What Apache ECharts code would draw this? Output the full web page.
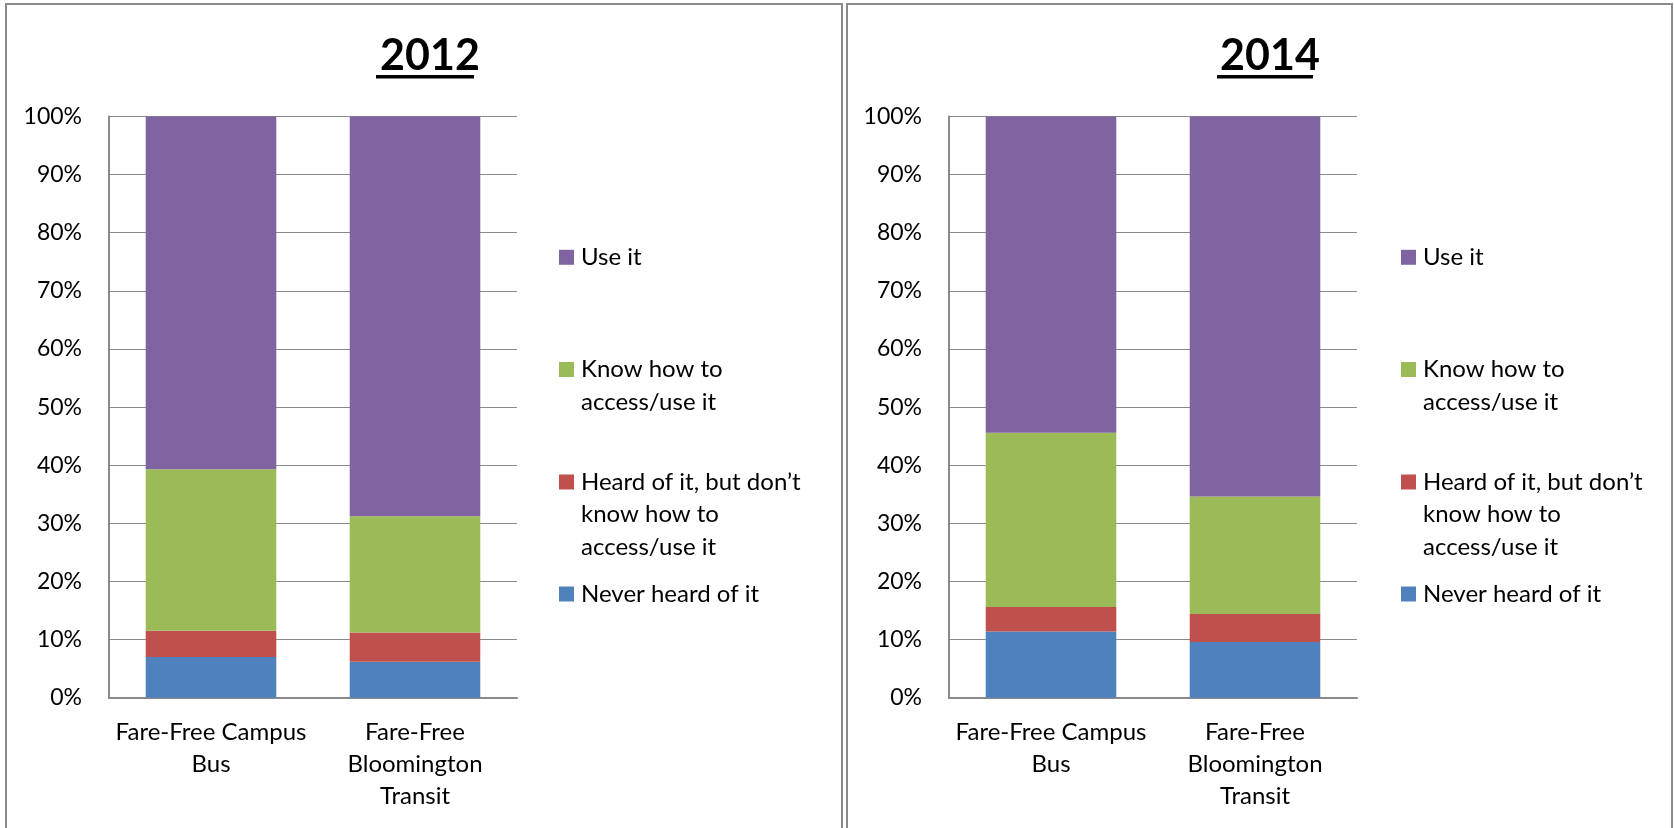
<!DOCTYPE html>
<html>
<head>
<meta charset="utf-8">
<script src="https://cdn.jsdelivr.net/npm/echarts@6/dist/echarts.min.js"></script>
<style>
  html, body { margin: 0; padding: 0; background: #fff; }
  #chart { width: 1674px; height: 828px; }
</style>
</head>
<body>
<div id="chart"></div>
<script>
// categories on the x axis
const categories = ["Fare-Free Campus\nBus", "Fare-Free\nBloomington\nTransit"]
// legend / series names (bottom of stack first)
const names = [
  "Never heard of it",
  "Heard of it, but don\u2019t\nknow how to\naccess/use it",
  "Know how to\naccess/use it",
  "Use it",
]
const colors = ["#4F81BD", "#C0504D", "#9BBB59", "#8064A2"]
const yTicks = [0, 10, 20, 30, 40, 50, 60, 70, 80, 90, 100]

// 2012 values, percent
const never2012 = [7.0, 6.2]
const heard2012 = [4.5, 5.0]
const know2012 = [27.8, 20.0]
const use2012 = [60.7, 68.8]

// 2014 values, percent
const never2014 = [11.4, 9.6]
const heard2014 = [4.2, 4.8]
const know2014 = [30.0, 20.2]
const use2014 = [54.4, 65.4]

const FONT = "Lato"
const LH = 32.4
const gridColor = "#8a8a8a"

const makeSeries = (idx, stack, values) =>
  values.map((data, i) => ({
    name: names[i],
    type: "bar",
    stack: stack,
    xAxisIndex: idx,
    yAxisIndex: idx,
    barWidth: "64%",
    itemStyle: { color: colors[i] },
    data: data,
  }))

// icon sits on the first line: pad with blank lines above so the block centre is line 1
const makeLegend = (name, lines, left, firstLineY) => ({
  data: [name],
  left: left,
  top: firstLineY - ((2 * lines - 1) * LH) / 2,
  orient: "vertical",
  padding: 0,
  icon: "rect",
  itemWidth: 15,
  itemHeight: 15,
  selectedMode: false,
  formatter: (n) => "\n".repeat(lines - 1) + n,
  textStyle: {
    fontFamily: FONT,
    fontSize: 24,
    color: "#000",
    lineHeight: LH,
    padding: [0, 0, 0, 2],
  },
})

const legendRows = [
  [names[3], 1, 257.3],
  [names[2], 2, 369.5],
  [names[1], 3, 482],
  [names[0], 1, 594],
]

const xAxisOf = (idx) => ({
  type: "category",
  gridIndex: idx,
  data: categories,
  axisTick: { show: false },
  axisLine: { lineStyle: { color: gridColor, width: 2 } },
  axisLabel: {
    color: "#000",
    fontFamily: FONT,
    fontSize: 24,
    lineHeight: 31.7,
    margin: 19,
    interval: 0,
  },
})

const yAxisOf = (idx) => ({
  type: "value",
  gridIndex: idx,
  min: yTicks[0],
  max: yTicks[yTicks.length - 1],
  interval: 10,
  axisLine: { show: true, lineStyle: { color: gridColor, width: 2 } },
  axisTick: { show: false },
  splitLine: { lineStyle: { color: gridColor, width: 1.2 } },
  axisLabel: {
    color: "#000",
    fontFamily: FONT,
    fontSize: 23,
    margin: 27,
    formatter: "{value}%",
  },
})

const underline = (x1, x2) => ({
  type: "rect",
  shape: { x: x1, y: 75, width: x2 - x1, height: 3.5 },
  style: { fill: "#000" },
})

const chart = echarts.init(document.getElementById("chart"))
const option = {
  animation: false,
  backgroundColor: "#fff",
  title: [
    {
      text: "2012",
      left: 425,
      top: 30,
      textAlign: "center",
      textStyle: { fontFamily: FONT, fontSize: 43, fontWeight: "bold", color: "#000" },
    },
    {
      text: "2014",
      left: 1265,
      top: 30,
      textAlign: "center",
      textStyle: { fontFamily: FONT, fontSize: 43, fontWeight: "bold", color: "#000" },
    },
  ],
  grid: [
    { left: 109, top: 116.5, width: 408, height: 581.2 },
    { left: 949, top: 116.5, width: 408, height: 581.2 },
  ],
  xAxis: [xAxisOf(0), xAxisOf(1)],
  yAxis: [yAxisOf(0), yAxisOf(1)],
  legend: [
    ...legendRows.map((r) => makeLegend(r[0], r[1], 559, r[2])),
    ...legendRows.map((r) => makeLegend(r[0], r[1], 1401, r[2])),
  ],
  series: [
    ...makeSeries(0, "y2012", [never2012, heard2012, know2012, use2012]),
    ...makeSeries(1, "y2014", [never2014, heard2014, know2014, use2014]),
  ],
  graphic: [
    {
      type: "rect",
      shape: { x: 6, y: 4, width: 836, height: 900 },
      style: { fill: "none", stroke: gridColor, lineWidth: 2 },
    },
    {
      type: "rect",
      shape: { x: 847, y: 4, width: 825, height: 900 },
      style: { fill: "none", stroke: gridColor, lineWidth: 2 },
    },
    underline(376, 474),
    underline(1217, 1313),
  ],
}
chart.setOption(option)
</script>
</body>
</html>
